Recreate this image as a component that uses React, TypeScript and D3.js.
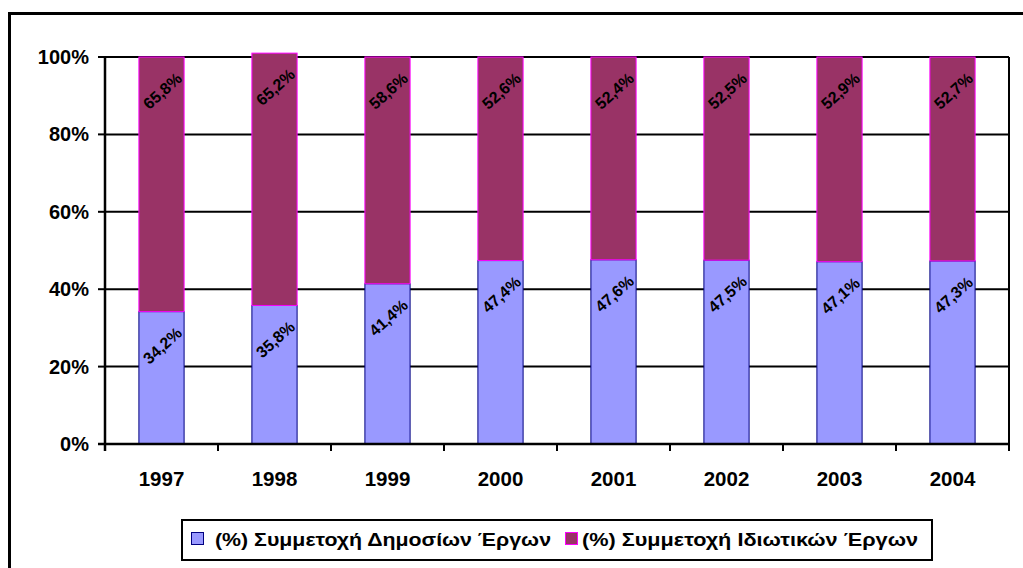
import React from 'react';
import * as d3 from 'd3';

const years = ['1997', '1998', '1999', '2000', '2001', '2002', '2003', '2004'];
const publicWorks = [34.2, 35.8, 41.4, 47.4, 47.6, 47.5, 47.1, 47.3];
const privateWorks = [65.8, 65.2, 58.6, 52.6, 52.4, 52.5, 52.9, 52.7];
const yTicks = [0, 20, 40, 60, 80, 100];
const seriesNames = ['(%) Συμμετοχή Δημοσίων Έργων', '(%) Συμμετοχή Ιδιωτικών Έργων'];

const FONT = '"Liberation Sans", Arial, sans-serif';

const fmt = (v: number) => v.toFixed(1).replace('.', ',') + '%';

export default function App() {
  const width = 1023;
  const height = 568;
  const plot = { left: 105, right: 1009, top: 57, bottom: 444 };

  const x = d3.scaleBand<string>()
    .domain(years)
    .range([plot.left, plot.right])
    .padding(0);
  const y = d3.scaleLinear()
    .domain([0, 100])
    .range([plot.bottom, plot.top]);

  const barW = x.bandwidth() * 0.4;

  const stacked = d3.stack<number>()
    .keys(['pub', 'priv'])
    .value((i, key) => (key === 'pub' ? publicWorks[i] : privateWorks[i]))(d3.range(years.length));

  const fills = ['#9999FF', '#993366'];
  const strokes = ['#000080', '#FF00FF'];
  const values = [publicWorks, privateWorks];

  // legend item positions (swatch x, text x)
  const legendItems = [
    { sx: 191, tx: 215 },
    { sx: 565, tx: 582 },
  ];

  return (
    <svg
      width={width}
      height={height}
      style={{ position: 'absolute', left: 0, top: 0, background: '#fff' }}
      fontFamily={FONT}
    >
      <rect x={9.5} y={13.5} width={1040} height={580} fill="#fff" stroke="#000" strokeWidth={3} />

      {/* gridlines */}
      {yTicks.filter(t => t > 0).map(t => (
        <line key={t} x1={plot.left} x2={plot.right} y1={y(t)} y2={y(t)} stroke="#000" strokeWidth={2} />
      ))}
      <line x1={plot.right} x2={plot.right} y1={plot.top} y2={plot.bottom} stroke="#000" strokeWidth={2} />

      {/* bars */}
      {stacked.map((layer, s) => (
        <g key={layer.key}>
          {layer.map((d, i) => {
            const cx = (x(years[i]) as number) + x.bandwidth() / 2;
            const y0 = y(d[0]);
            const y1 = y(d[1]);
            return (
              <rect
                key={i}
                x={cx - barW / 2}
                y={y1}
                width={barW}
                height={y0 - y1}
                fill={fills[s]}
                stroke={strokes[s]}
                strokeWidth={1}
              />
            );
          })}
        </g>
      ))}

      {/* axes */}
      <line x1={plot.left} x2={plot.left} y1={plot.top - 1} y2={plot.bottom + 7} stroke="#000" strokeWidth={2.5} />
      <line x1={plot.left - 7} x2={plot.right} y1={plot.bottom} y2={plot.bottom} stroke="#000" strokeWidth={2.5} />
      {yTicks.map(t => (
        <g key={t}>
          <line x1={plot.left - 7} x2={plot.left} y1={y(t)} y2={y(t)} stroke="#000" strokeWidth={2} />
          <text x={plot.left - 16} y={y(t) + 7} textAnchor="end" fontSize={20} fontWeight="bold">
            {t}%
          </text>
        </g>
      ))}
      {years.map((yr, i) => {
        const bx = (x(yr) as number) + x.bandwidth();
        return (
          <g key={yr}>
            <line x1={bx} x2={bx} y1={plot.bottom} y2={plot.bottom + 7} stroke="#000" strokeWidth={2} />
            <text
              x={(x(yr) as number) + x.bandwidth() / 2}
              y={plot.bottom + 42}
              textAnchor="middle"
              fontSize={20.5}
              fontWeight="bold"
            >
              {yr}
            </text>
          </g>
        );
      })}

      {/* data labels */}
      {stacked.map((layer, s) => (
        <g key={'l' + layer.key}>
          {layer.map((d, i) => {
            const cx = (x(years[i]) as number) + x.bandwidth() / 2 + 1;
            const cy = y(d[1]) + 34;
            return (
              <text
                key={i}
                transform={`translate(${cx},${cy}) rotate(-42)`}
                textAnchor="middle"
                dominantBaseline="central"
                fontSize={16}
                fontWeight="bold"
              >
                {fmt(values[s][i])}
              </text>
            );
          })}
        </g>
      ))}

      {/* legend */}
      <rect x={182} y={520} width={750} height={40} fill="#fff" stroke="#000" strokeWidth={2} />
      {legendItems.map((it, k) => (
        <g key={k}>
          <rect x={it.sx + 0.5} y={532.5} width={12} height={12} fill={fills[k]} stroke={strokes[k]} strokeWidth={1} />
          <text x={it.tx} y={546} fontSize={19} fontWeight="bold" textLength={336} lengthAdjust="spacingAndGlyphs">
            {seriesNames[k]}
          </text>
        </g>
      ))}
    </svg>
  );
}
